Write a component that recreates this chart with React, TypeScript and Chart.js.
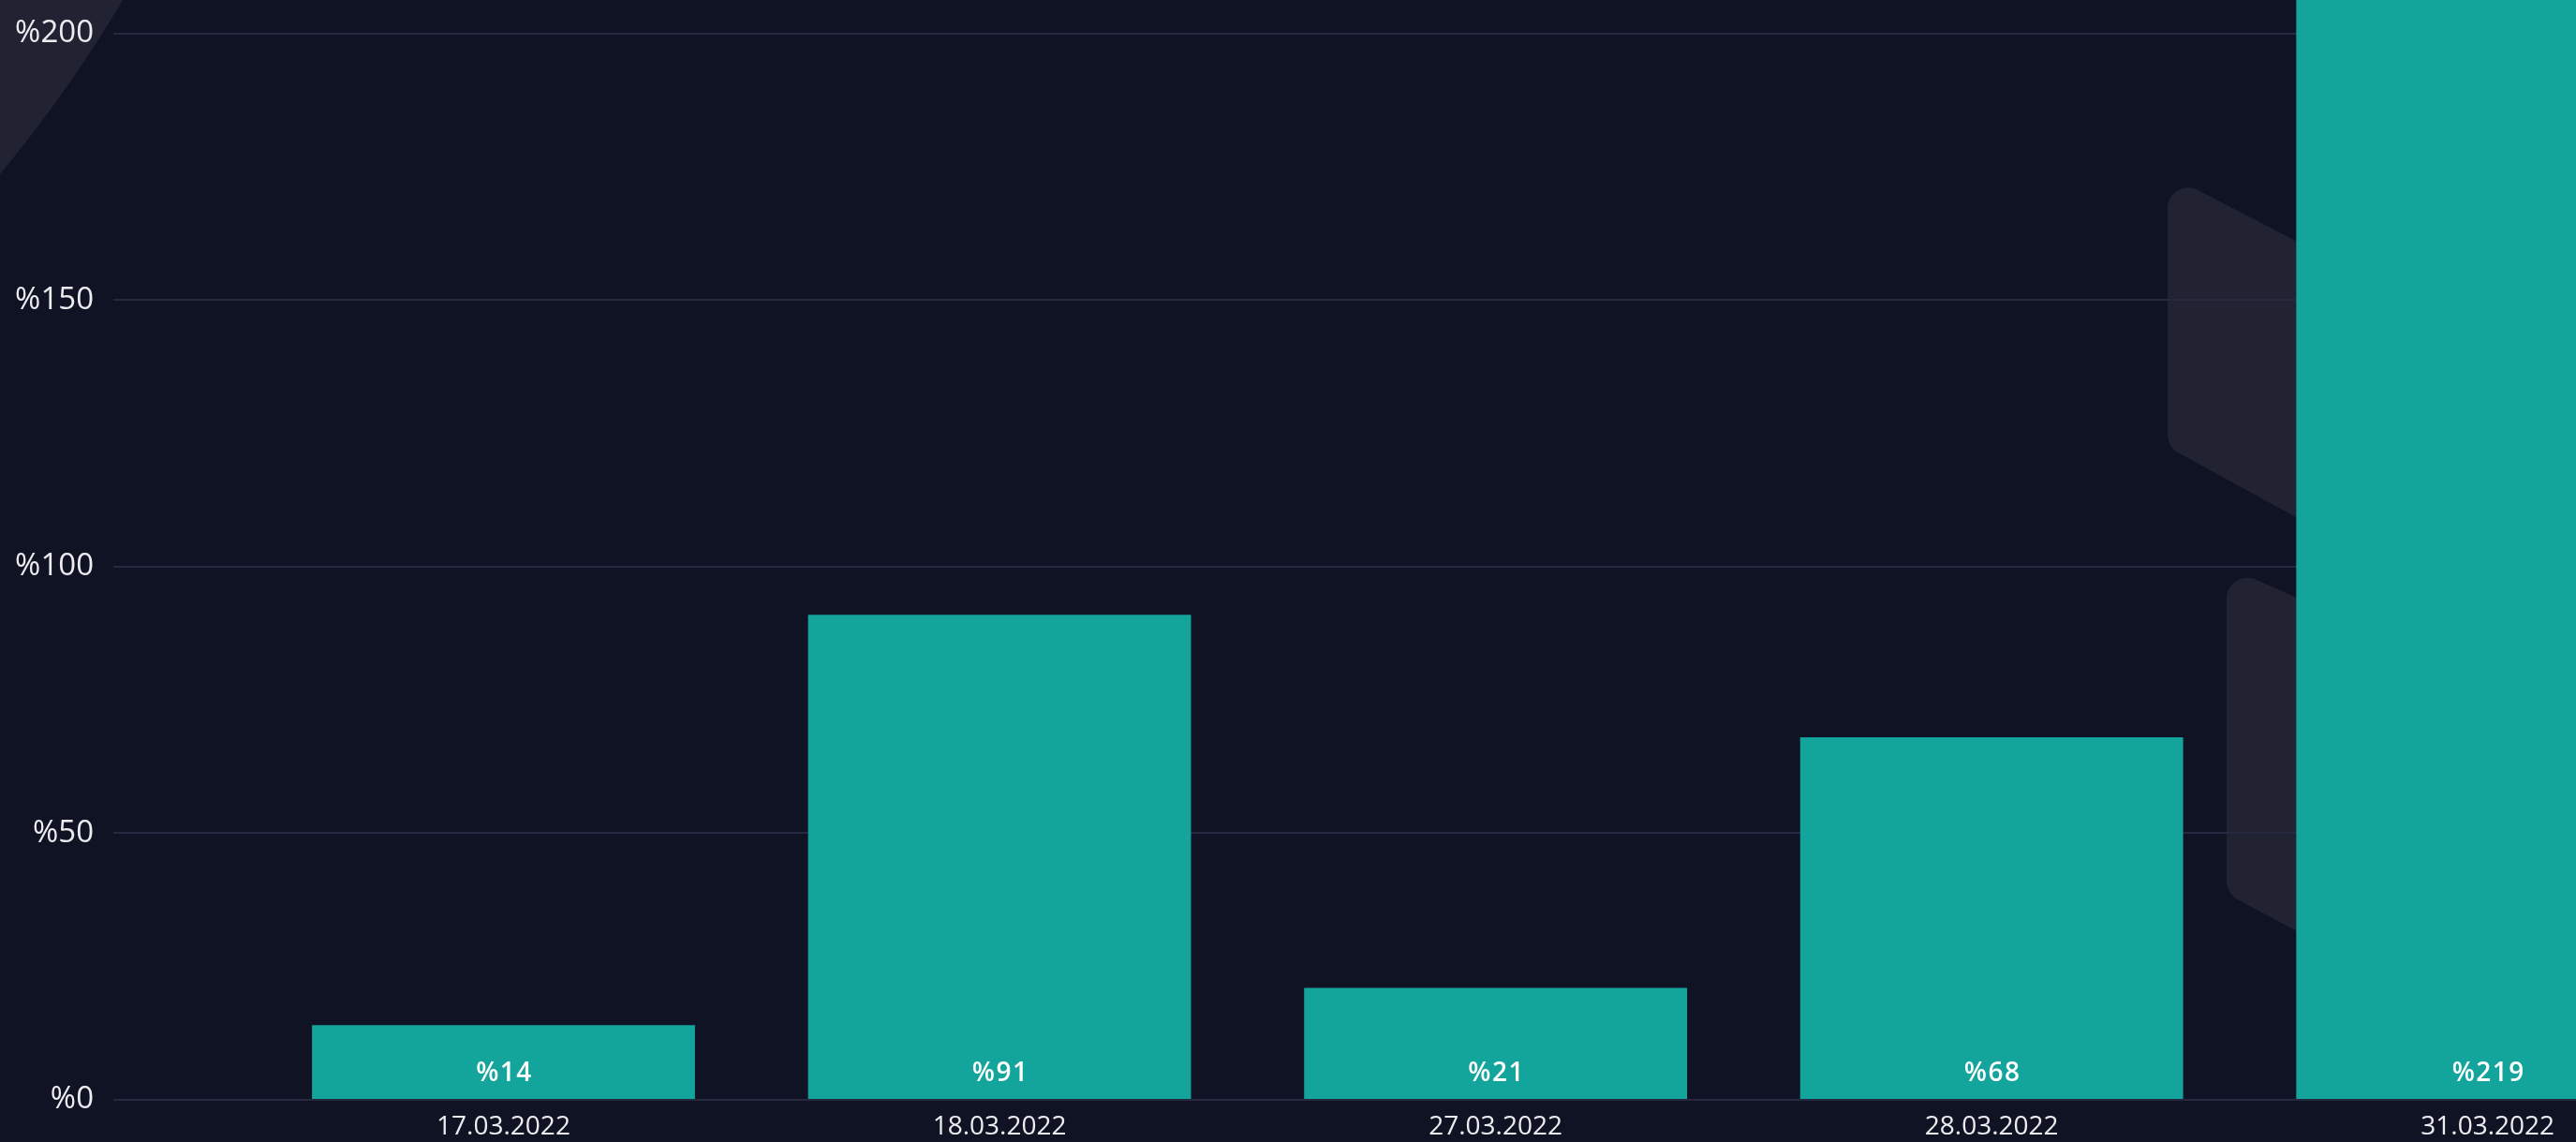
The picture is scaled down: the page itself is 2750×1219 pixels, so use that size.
import React, { useEffect, useRef } from 'react';
import { Chart, registerables } from 'chart.js';

Chart.register(...registerables);

const categories: string[] = ['17.03.2022', '18.03.2022', '27.03.2022', '28.03.2022', '31.03.2022'];
const values: number[] = [14, 91, 21, 68, 219];
const yTickValues: number[] = [0, 50, 100, 150, 200];

const W = 2750;
const H = 1219;
const BG = '#101323';
const BAR = '#13a49c';
const GRID = '#262940';
const TEXT = '#ececf1';
const SHAPE = '#212332';
const FONT = "'Open Sans', 'Noto Sans', sans-serif";

function roundedPoly(ctx: CanvasRenderingContext2D, pts: [number, number][], r: number[]) {
  const n = pts.length;
  ctx.beginPath();
  const start = [(pts[0][0] + pts[n - 1][0]) / 2, (pts[0][1] + pts[n - 1][1]) / 2];
  ctx.moveTo(start[0], start[1]);
  for (let i = 0; i < n; i++) {
    const p = pts[i];
    const q = pts[(i + 1) % n];
    ctx.arcTo(p[0], p[1], q[0], q[1], r[i]);
  }
  ctx.closePath();
}

const backgroundPlugin = {
  id: 'bgDecor',
  beforeDraw(chart: any) {
    const ctx: CanvasRenderingContext2D = chart.ctx;
    ctx.save();
    ctx.fillStyle = BG;
    ctx.fillRect(0, 0, chart.width, chart.height);
    ctx.fillStyle = SHAPE;
    // top-left decorative shape
    ctx.beginPath();
    ctx.moveTo(0, 0);
    ctx.lineTo(131, 0);
    ctx.quadraticCurveTo(75, 95, 0, 186);
    ctx.closePath();
    ctx.fill();
    // right decorative shapes (mostly hidden by the last bar)
    roundedPoly(ctx, [[2314, 186], [2520, 293], [2520, 590], [2314, 477]], [22, 0, 0, 22]);
    ctx.fill();
    roundedPoly(ctx, [[2377, 605], [2520, 668], [2520, 1030], [2377, 954]], [22, 0, 0, 22]);
    ctx.fill();
    ctx.restore();
  },
};

const valueLabelPlugin = {
  id: 'valueLabels',
  afterDatasetsDraw(chart: any) {
    const ctx: CanvasRenderingContext2D = chart.ctx;
    const meta = chart.getDatasetMeta(0);
    ctx.save();
    ctx.fillStyle = '#ffffff';
    ctx.font = `600 28px ${FONT}`;
    (ctx as any).letterSpacing = '1.5px';
    ctx.textAlign = 'center';
    ctx.textBaseline = 'middle';
    meta.data.forEach((bar: any, i: number) => {
      ctx.fillText('%' + values[i], bar.x + 1, bar.base - 27);
    });
    ctx.restore();
  },
};

export default function App() {
  const ref = useRef<HTMLCanvasElement | null>(null);

  useEffect(() => {
    if (!ref.current) return;
    const chart = new Chart(ref.current, {
      type: 'bar',
      data: {
        datasets: [
          {
            data: values.map((v, i) => ({ x: i, y: v })),
            backgroundColor: BAR,
            borderWidth: 0,
            categoryPercentage: 1,
            barPercentage: 0.772,
          },
        ],
      },
      options: {
        responsive: false,
        maintainAspectRatio: false,
        animation: false,
        devicePixelRatio: 1,
        layout: { padding: 0 },
        plugins: {
          legend: { display: false },
          tooltip: { enabled: false },
          title: { display: false },
        },
        scales: {
          x: {
            type: 'linear',
            offset: false,
            min: -0.7865,
            max: 4.178,
            grid: { display: false },
            border: { display: false },
            afterBuildTicks: (scale: any) => {
              scale.ticks = categories.map((_, i) => ({ value: i }));
            },
            afterFit: (scale: any) => {
              scale.height = 45;
              scale.paddingLeft = 0;
              scale.paddingRight = 0;
            },
            ticks: {
              autoSkip: false,
              maxRotation: 0,
              padding: 4,
              color: TEXT,
              font: { family: FONT, size: 28 },
              callback: (v: any) => categories[v as number] ?? '',
            },
          },
          y: {
            type: 'linear',
            min: 0,
            max: 206.3,
            grid: { color: GRID, lineWidth: 2, drawTicks: false },
            border: { display: false },
            afterBuildTicks: (scale: any) => {
              scale.ticks = yTickValues.map((v) => ({ value: v }));
            },
            afterFit: (scale: any) => {
              scale.width = 121;
              scale.paddingTop = 0;
              scale.paddingBottom = 0;
            },
            ticks: {
              padding: 21,
              color: TEXT,
              font: { family: FONT, size: 33 },
              callback: (v: any) => '%' + v,
            },
          },
        },
      },
      plugins: [backgroundPlugin, valueLabelPlugin],
    } as any);
    return () => chart.destroy();
  }, []);

  return (
    <div style={{ position: 'fixed', left: 0, top: 0, width: W, height: H, background: BG, overflow: 'hidden' }}>
      <canvas ref={ref} width={W} height={H} style={{ width: W, height: H, display: 'block' }} />
    </div>
  );
}
